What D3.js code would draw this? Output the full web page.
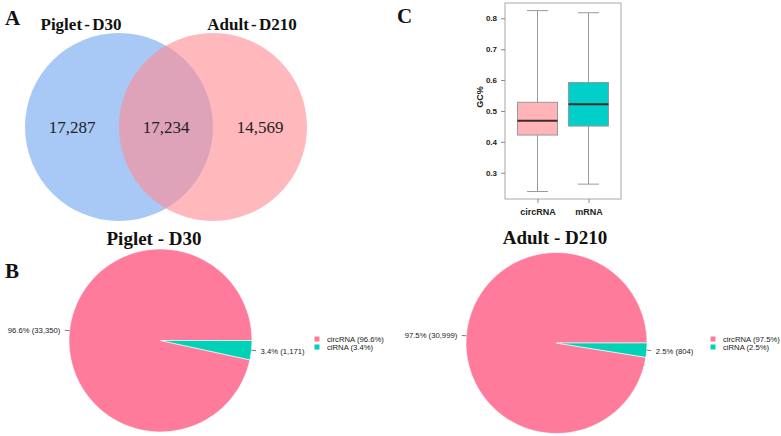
<!DOCTYPE html>
<html><head><meta charset="utf-8">
<script src="https://cdn.jsdelivr.net/npm/d3@7"></script>
<style>body{margin:0;background:#fff}svg{display:block}</style>
</head><body>
<svg id="c" width="781" height="436"></svg>
<script>
// ---- data ----
const vennSets = ["Piglet - D30", "Adult - D210"];
const vennRegions = ["Piglet only", "Shared", "Adult only"];
const vennCounts = [17287, 17234, 14569];

const pieCategories = ["circRNA", "ciRNA"];
const pigletCounts = [33350, 1171];
const adultCounts = [30999, 804];
const pieTitles = ["Piglet - D30", "Adult - D210"];

const boxCategories = ["circRNA", "mRNA"];
const boxLow = [0.239, 0.263];
const boxQ1 = [0.422, 0.451];
const boxMedian = [0.468, 0.522];
const boxQ3 = [0.528, 0.592];
const boxHigh = [0.825, 0.818];
const yTicks = [0.3, 0.4, 0.5, 0.6, 0.7, 0.8];

// ---- drawing ----
const svg = d3.select("#c");
const serif = "'Liberation Serif','Times New Roman',serif";
const sans = "'Liberation Sans',Arial,sans-serif";
const fmt = d3.format(",");

// panel letters
[["A",5,25],["B",5,278],["C",397,23]].forEach(([t,x,y]) =>
  svg.append("text").attr("x",x).attr("y",y).text(t)
    .attr("font-family",serif).attr("font-weight","bold").attr("font-size",21).attr("fill","#111"));

// ---- Venn ----
const vx = d3.scalePoint().domain(vennRegions).range([72, 260]);
const vr = 94;
const circleCx = [ (vx("Piglet only")+vx("Shared"))/2, (vx("Shared")+vx("Adult only"))/2 ];
const vennCy = 127;
const vennColors = ["rgb(115,166,239)", "rgb(255,140,147)"];
vennSets.forEach((s,i) => {
  svg.append("circle").attr("cx",circleCx[i]).attr("cy",vennCy).attr("r",vr)
    .attr("fill",vennColors[i]).attr("fill-opacity",0.62);
});
const vennTitleX = [81, 252];
vennSets.forEach((s,i) => {
  svg.append("text").attr("x",vennTitleX[i]).attr("y",30).attr("text-anchor","middle")
    .text(s).attr("font-family",serif).attr("font-weight","bold")
    .attr("font-size",17).attr("fill","#111").attr("word-spacing","-2px");
});
vennRegions.forEach((r,i) => {
  svg.append("text").attr("x",vx(r)).attr("y",133).attr("text-anchor","middle")
    .text(fmt(vennCounts[i])).attr("font-family",serif).attr("font-size",17).attr("fill","#222");
});

// ---- Box plot ----
const bx = d3.scalePoint().domain(boxCategories).range([505, 621]).padding(0.637);
const by = d3.scaleLinear().domain([0.3, 0.8]).range([172.7, 18.3]);
const frame = {l:505, r:621, t:3, b:199};
svg.append("rect").attr("x",frame.l).attr("y",frame.t).attr("width",frame.r-frame.l).attr("height",frame.b-frame.t)
  .attr("fill","none").attr("stroke","#a8a8a8").attr("stroke-width",1);
const yAxis = svg.append("g").attr("transform",`translate(${frame.l},0)`)
  .call(d3.axisLeft(by).tickValues(yTicks).tickSize(4).tickFormat(d3.format(".1f")));
yAxis.select(".domain").remove();
yAxis.selectAll("line").attr("stroke","#888");
yAxis.selectAll("text").attr("font-family",sans).attr("font-weight","bold").attr("font-size",8).attr("fill","#222").attr("dx","-1");
const xAxis = svg.append("g").attr("transform",`translate(0,${frame.b})`)
  .call(d3.axisBottom(bx).tickSize(4).tickPadding(6));
xAxis.select(".domain").remove();
xAxis.selectAll("line").attr("stroke","#888");
xAxis.selectAll("text").attr("font-family",sans).attr("font-weight","bold").attr("font-size",9).attr("fill","#222");
svg.append("text").attr("transform",`translate(483,97) rotate(-90)`).attr("text-anchor","middle")
  .text("GC%").attr("font-family",sans).attr("font-weight","bold").attr("font-size",9).attr("fill","#222");

const boxFill = ["#ffb5b8", "#00cfca"];
const bw = 40, cw = 21;
boxCategories.forEach((c,i) => {
  const cx = bx(c);
  const g = svg.append("g");
  g.append("line").attr("x1",cx).attr("x2",cx).attr("y1",by(boxHigh[i])).attr("y2",by(boxQ3[i])).attr("stroke","#999");
  g.append("line").attr("x1",cx).attr("x2",cx).attr("y1",by(boxQ1[i])).attr("y2",by(boxLow[i])).attr("stroke","#999");
  [boxHigh[i], boxLow[i]].forEach(v => g.append("line").attr("x1",cx-cw/2).attr("x2",cx+cw/2)
    .attr("y1",by(v)).attr("y2",by(v)).attr("stroke","#999"));
  g.append("rect").attr("x",cx-bw/2).attr("width",bw).attr("y",by(boxQ3[i])).attr("height",by(boxQ1[i])-by(boxQ3[i]))
    .attr("fill",boxFill[i]).attr("stroke","#999");
  g.append("line").attr("x1",cx-bw/2).attr("x2",cx+bw/2).attr("y1",by(boxMedian[i])).attr("y2",by(boxMedian[i]))
    .attr("stroke","#3d2b2b").attr("stroke-width",2);
});

// ---- Pies ----
const pieColors = d3.scaleOrdinal().domain(pieCategories).range(["#ff7b9c", "#00d2b7"]);
const pies = [
  {counts: pigletCounts, cx: 160.5, cy: 340.5, r: 91.5, title: pieTitles[0], tx: 154, ty: 245, lx: 317, ly: 339},
  {counts: adultCounts, cx: 556.5, cy: 343, r: 90.5, title: pieTitles[1], tx: 555, ty: 244, lx: 713, ly: 339}
];
const pctFmt = d3.format(".1%");
pies.forEach(p => {
  const total = d3.sum(p.counts);
  const frac = p.counts[1] / total;
  const start = Math.PI/2 + 2*Math.PI*frac;
  const pie = d3.pie().sort(null).startAngle(start).endAngle(start + 2*Math.PI);
  const arcs = pie(p.counts);
  const arc = d3.arc().innerRadius(0).outerRadius(p.r);
  const g = svg.append("g").attr("transform",`translate(${p.cx},${p.cy})`);
  g.selectAll("path").data(arcs).join("path").attr("d",arc)
    .attr("fill",(d,i)=>pieColors(pieCategories[i])).attr("stroke","#fff").attr("stroke-width",0.6);
  arcs.forEach((a,i) => {
    const m = (a.startAngle + a.endAngle)/2;
    const sx = Math.sin(m), sy = -Math.cos(m);
    g.append("line").attr("x1",sx*p.r*1.0).attr("y1",sy*p.r*1.0).attr("x2",sx*p.r*1.05).attr("y2",sy*p.r*1.05)
      .attr("stroke","#555").attr("stroke-width",0.8);
    const pct = p.counts[i]/total;
    g.append("text").attr("x",sx*p.r*1.1).attr("y",sy*p.r*1.1).attr("dy","0.35em")
      .attr("text-anchor", sx < 0 ? "end" : "start")
      .text(`${pctFmt(pct)} (${fmt(p.counts[i])})`)
      .attr("font-family",sans).attr("font-size",7.7).attr("fill","#1a1a1a");
  });
  svg.append("text").attr("x",p.tx).attr("y",p.ty).attr("text-anchor","middle").text(p.title)
    .attr("font-family",serif).attr("font-weight","bold").attr("font-size",19).attr("fill","#111");
  // legend
  pieCategories.forEach((c,i) => {
    const pct = p.counts[i]/total;
    svg.append("rect").attr("x",p.lx-2.5).attr("y",p.ly + i*8 - 2.5).attr("width",5).attr("height",5).attr("fill",pieColors(c));
    svg.append("text").attr("x",p.lx+10).attr("y",p.ly + i*8).attr("dy","0.35em").text(`${c} (${pctFmt(pct)})`)
      .attr("font-family",sans).attr("font-size",7.7).attr("fill","#1a1a1a");
  });
});
</script>
</body></html>
